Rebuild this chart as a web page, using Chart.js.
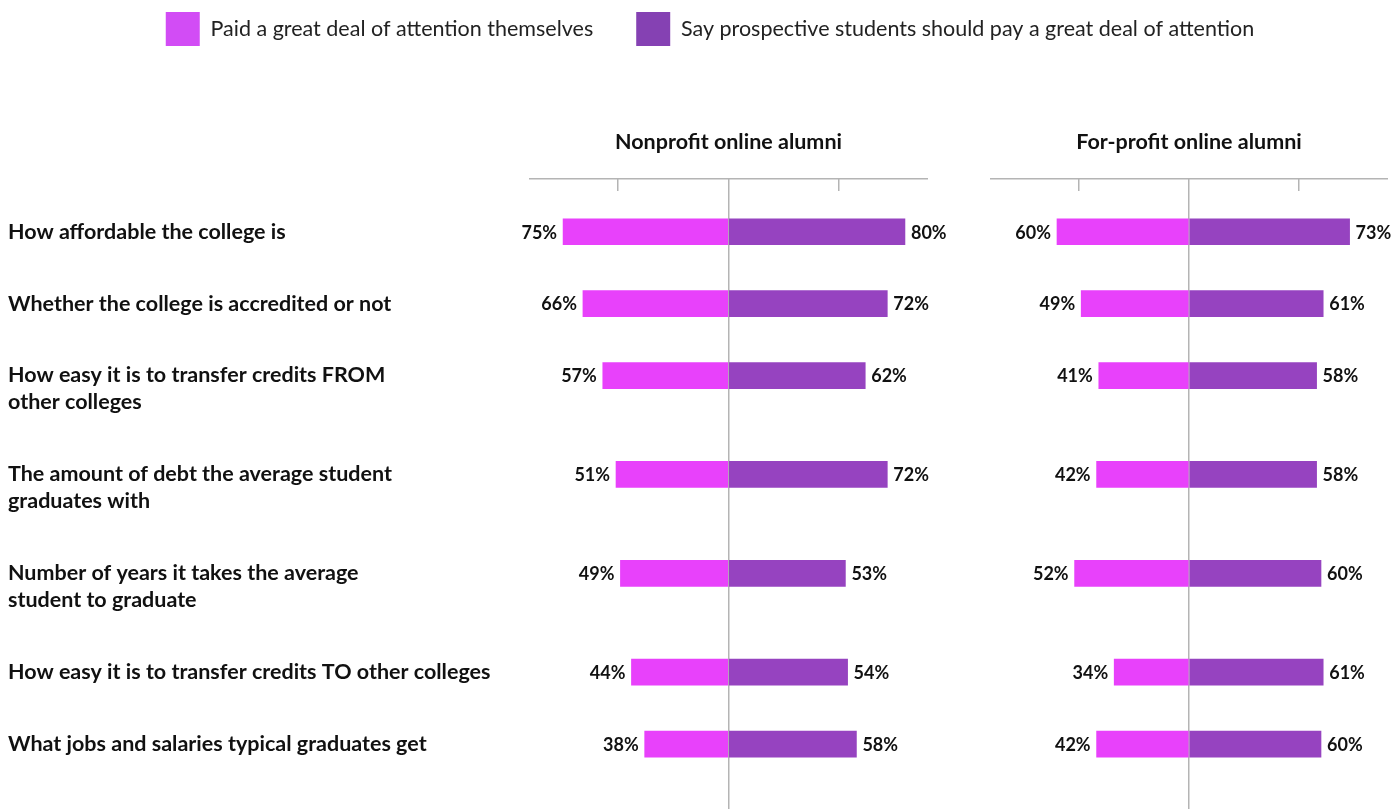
<!DOCTYPE html>
<html>
<head>
<meta charset="utf-8">
<title>Online alumni: attention to college factors</title>
<script src="https://cdn.jsdelivr.net/npm/chart.js@4.4.1/dist/chart.umd.min.js"></script>
<style>
  body { margin: 0; background: #fff; overflow: hidden; }
  #wrap { position: relative; width: 1393px; height: 809px; overflow: hidden; }
  #nonprofitChart { position: absolute; left: 0; top: 0; }
  #forprofitChart { position: absolute; left: 940px; top: 0; }
</style>
</head>
<body>
<div id="wrap">
  <canvas id="nonprofitChart" width="1420" height="809"></canvas>
  <canvas id="forprofitChart" width="453" height="809"></canvas>
</div>
<script>
// Row labels (one entry per line of text)
const categories = [
    ['How affordable the college is'],
    ['Whether the college is accredited or not'],
    ['How easy it is to transfer credits FROM', 'other colleges'],
    ['The amount of debt the average student', 'graduates with'],
    ['Number of years it takes the average', 'student to graduate'],
    ['How easy it is to transfer credits TO other colleges'],
    ['What jobs and salaries typical graduates get']
];
const seriesNames = [
    'Paid a great deal of attention themselves',
    'Say prospective students should pay a great deal of attention'
];
const panelTitles = ['Nonprofit online alumni', 'For-profit online alumni'];

const nonprofitPaid = [75, 66, 57, 51, 49, 44, 38];
const nonprofitSay = [80, 72, 62, 72, 53, 54, 58];
const forprofitPaid = [60, 49, 41, 42, 52, 34, 42];
const forprofitSay = [73, 61, 58, 58, 60, 61, 60];

const axisTicks = [-50, 0, 50];

const PINK = '#e841fb';
const PURPLE = '#9643c0';
const LEGEND_COLORS = ['#d24cf5', '#8541b3'];
const AXIS = '#b4b4b4';
const FONT = 'Lato';

// vertical layout: rows with two-line labels get extra room
const FIRST_ROW = 41, ROW_GAP = 72, LINE_GAP = 27, AREA_HEIGHT = 619;
const rowPos = [];
categories.forEach((lines, i) => {
    rowPos.push(i === 0 ? FIRST_ROW : rowPos[i - 1] + ROW_GAP + LINE_GAP * (categories[i - 1].length - 1));
});

function makeDatasets(paid, say) {
    return [{
        label: seriesNames[0],
        data: paid.map((v, i) => ({ x: -v, y: rowPos[i] })),
        backgroundColor: PINK,
        barThickness: 26
    }, {
        label: seriesNames[1],
        data: say.map((v, i) => ({ x: v, y: rowPos[i] })),
        backgroundColor: PURPLE,
        barThickness: 26
    }];
}

const valueLabels = {
    id: 'valueLabels',
    afterDatasetsDraw(chart) {
        const ctx = chart.ctx;
        ctx.save();
        ctx.font = 'bold 18px ' + FONT;
        ctx.fillStyle = '#111';
        ctx.textBaseline = 'middle';
        chart.data.datasets.forEach((ds, di) => {
            chart.getDatasetMeta(di).data.forEach((bar, i) => {
                const v = ds.data[i].x;
                ctx.textAlign = v < 0 ? 'right' : 'left';
                ctx.fillText(Math.abs(v) + '%', bar.x + (v < 0 ? -6 : 6), bar.y + 1);
            });
        });
        ctx.restore();
    }
};

const categoryLabels = {
    id: 'categoryLabels',
    afterDraw(chart) {
        const ctx = chart.ctx;
        const y = chart.scales.y;
        ctx.save();
        ctx.font = 'bold 21.5px ' + FONT;
        ctx.fillStyle = '#111';
        ctx.textAlign = 'left';
        ctx.textBaseline = 'middle';
        categories.forEach((lines, i) => {
            lines.forEach((t, k) => {
                ctx.fillText(t, 8, y.getPixelForValue(rowPos[i]) + k * LINE_GAP);
            });
        });
        ctx.restore();
    }
};

function panelScales(leftWidth, rightWidth) {
    const scales = {
        x: {
            type: 'linear',
            position: 'top',
            min: -90,
            max: 90,
            stacked: true,
            afterBuildTicks: s => { s.ticks = axisTicks.map(v => ({ value: v })); },
            ticks: { display: false },
            border: { display: false },
            grid: {
                tickLength: 12,
                tickColor: AXIS,
                tickWidth: 1.5,
                lineWidth: 1.5,
                color: c => (c.tick && c.tick.value === 0 ? AXIS : 'rgba(0,0,0,0)')
            }
        },
        xLine: {
            type: 'linear',
            position: 'top',
            min: -90,
            max: 90,
            ticks: { display: false },
            border: { color: AXIS, width: 1.5 },
            grid: { drawOnChartArea: false, drawTicks: false }
        },
        y: {
            type: 'linear',
            position: 'left',
            reverse: true,
            offset: false,
            min: 0,
            max: AREA_HEIGHT,
            stacked: true,
            ticks: { display: false },
            grid: { display: false, offset: false },
            border: { display: false },
            afterFit: s => { s.width = leftWidth; }
        }
    };
    if (rightWidth) {
        scales.yRight = {
            type: 'linear',
            position: 'right',
            ticks: { display: false },
            grid: { display: false },
            border: { display: false },
            afterFit: s => { s.width = rightWidth; }
        };
    }
    return scales;
}

function titleOptions(text) {
    return {
        display: true,
        text: text,
        weight: 500,
        fullSize: false,
        color: '#111',
        font: { family: FONT, size: 21.5, weight: 'bold' },
        padding: { top: 73, bottom: 24 }
    };
}

function createNonprofitChart() {
    const ctx = document.getElementById('nonprofitChart').getContext('2d');
    return new Chart(ctx, {
        type: 'bar',
        data: { datasets: makeDatasets(nonprofitPaid, nonprofitSay) },
        options: {
            indexAxis: 'y',
            responsive: false,
            animation: false,
            events: [],
            layout: { padding: { top: -31 } },
            scales: panelScales(530, 493),
            plugins: {
                legend: {
                    position: 'top',
                    labels: {
                        boxWidth: 34,
                        boxHeight: 34,
                        padding: 43,
                        color: '#222',
                        font: { family: FONT, size: 21.5 },
                        generateLabels: chart => Chart.defaults.plugins.legend.labels.generateLabels(chart)
                            .map((item, i) => Object.assign(item, { fillStyle: LEGEND_COLORS[i], lineWidth: 0 }))
                    }
                },
                title: titleOptions(panelTitles[0]),
                tooltip: { enabled: false }
            }
        },
        plugins: [valueLabels, categoryLabels]
    });
}

function createForprofitChart(legendBottom) {
    const ctx = document.getElementById('forprofitChart').getContext('2d');
    return new Chart(ctx, {
        type: 'bar',
        data: { datasets: makeDatasets(forprofitPaid, forprofitSay) },
        options: {
            indexAxis: 'y',
            responsive: false,
            animation: false,
            events: [],
            layout: { padding: { top: legendBottom, right: 6 } },
            scales: panelScales(51, 0),
            plugins: {
                legend: { display: false },
                title: titleOptions(panelTitles[1]),
                tooltip: { enabled: false }
            }
        },
        plugins: [valueLabels]
    });
}

const nonprofit = createNonprofitChart();
createForprofitChart(nonprofit.legend.bottom);
</script>
</body>
</html>
